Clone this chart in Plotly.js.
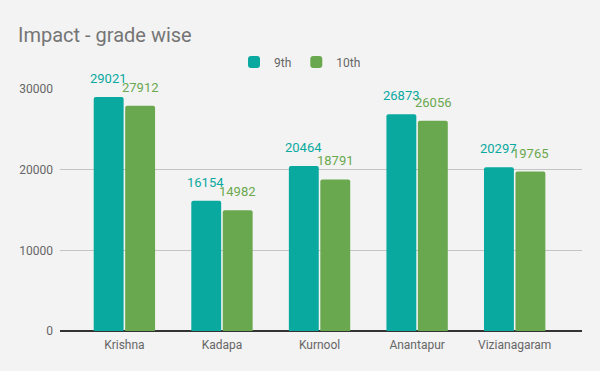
<!DOCTYPE html>
<html><head><meta charset="utf-8">
<script src="https://cdn.plot.ly/plotly-3.0.1.min.js"></script>
<style>html,body{margin:0;padding:0;background:#f3f3f3;}#chart{width:600px;height:371px;}</style>
</head><body><div id="chart"></div>
<script>
const categories = ["Krishna", "Kadapa", "Kurnool", "Anantapur", "Vizianagaram"];
const grade9 = [29021, 16154, 20464, 26873, 20297];
const grade10 = [27912, 14982, 18791, 26056, 19765];
const seriesNames = ["9th", "10th"];
const yTicks = [0, 10000, 20000, 30000];

const c9 = "#0aa9a0", c10 = "#6aa84f";
const font = "Roboto, 'Noto Sans', sans-serif";

const traces = [
  {type:"bar", name:seriesNames[0], x:categories, y:grade9, marker:{color:c9, cornerradius:2}, hoverinfo:"none", cliponaxis:false},
  {type:"bar", name:seriesNames[1], x:categories, y:grade10, marker:{color:c10, cornerradius:2}, hoverinfo:"none", cliponaxis:false}
];

const annotations = [];
categories.forEach((c,i)=>{
  annotations.push({x:c, y:grade9[i], xref:"x", yref:"y", text:String(grade9[i]), showarrow:false, yanchor:"bottom", xshift:-16, yshift:9, font:{family:font, size:13, color:c9}});
  annotations.push({x:c, y:grade10[i], xref:"x", yref:"y", text:String(grade10[i]), showarrow:false, yanchor:"bottom", xshift:16, yshift:9, font:{family:font, size:13, color:c10}});
});

const layout = {
  width:600, height:371,
  paper_bgcolor:"#f3f3f3", plot_bgcolor:"#f3f3f3",
  margin:{l:60, r:18, t:89, b:40},
  font:{family:font, color:"#666"},
  title:{text:"Impact - grade wise", x:18/600, xanchor:"left", xref:"container", y:1-35/371, yanchor:"middle", yref:"container", font:{family:font, size:20, color:"#757575"}},
  showlegend:true,
  legend:{orientation:"h", x:0.5, xanchor:"center", xref:"container", y:1-62/371, yref:"container", yanchor:"middle", font:{family:font, size:12, color:"#666"}, itemwidth:30, bgcolor:"rgba(0,0,0,0)"},
  barmode:"group", bargap:0.355, bargroupgap:0.05,
  xaxis:{type:"category", range:[-0.66, 4.69], showgrid:false, zeroline:false, showline:false, ticks:"", ticklabelstandoff:5, tickfont:{family:font, size:12, color:"#666"}, fixedrange:true},
  yaxis:{range:[0, 30000], tickvals:yTicks, ticktext:yTicks.map(String), showgrid:true, gridcolor:"#c4c4c4", gridwidth:1, zeroline:true, zerolinecolor:"#333", zerolinewidth:1.5, tickfont:{family:font, size:12, color:"#666"}, ticks:"", ticklabelstandoff:6, fixedrange:true},
  annotations:annotations
};

Plotly.newPlot("chart", traces, layout, {displayModeBar:false, staticPlot:true});
</script></body></html>
